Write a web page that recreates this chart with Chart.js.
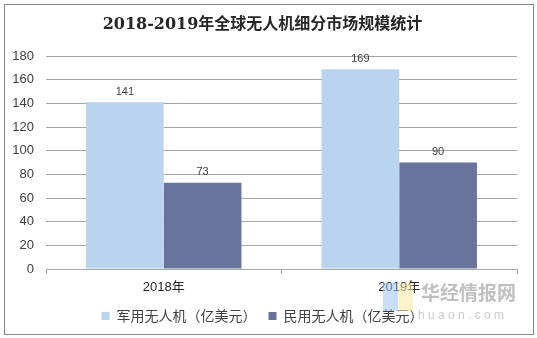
<!DOCTYPE html>
<html>
<head>
<meta charset="utf-8">
<script src="https://cdn.jsdelivr.net/npm/chart.js@4"></script>
<style>
  html, body { margin: 0; padding: 0; background: #fff; }
  #wrap { width: 537px; height: 338px; }
</style>
</head>
<body>
<div id="wrap"><canvas id="droneChart" width="537" height="338"></canvas></div>
<script>
const years = ['2018年', '2019年'];
const militaryValues = [141, 169];
const civilValues = [73, 90];
const seriesNames = ['军用无人机（亿美元）', '民用无人机（亿美元）'];
const titleText = '2018-2019年全球无人机细分市场规模统计';

// outer frame + watermark
const framePlugin = {
  id: 'frame',
  beforeDraw(chart) {
    const ctx = chart.ctx;
    ctx.save();
    ctx.fillStyle = '#fff';
    ctx.fillRect(0, 0, chart.width, chart.height);
    ctx.strokeStyle = '#868686';
    ctx.lineWidth = 1;
    ctx.strokeRect(4.5, 4.5, 529, 330);
    ctx.restore();
  },
  afterDraw(chart) {
    const ctx = chart.ctx;
    ctx.save();
    ctx.globalAlpha = 0.55;
    ctx.fillStyle = '#9fc3f5';
    ctx.fillRect(383, 283, 15, 28);
    ctx.fillStyle = '#fbe9a0';
    ctx.fillRect(398, 283, 15, 28);
    ctx.globalAlpha = 1;
    ctx.fillStyle = 'rgba(170,170,170,0.75)';
    ctx.font = 'bold 19px "Noto Sans CJK SC"';
    ctx.textBaseline = 'middle';
    ctx.fillText('华经情报网', 421, 293);
    ctx.font = '12px "Liberation Sans"';
    ctx.fillStyle = 'rgba(190,190,190,0.8)';
    ctx.fillText('h u a o n . c o m', 418, 316);
    ctx.restore();
  }
};

// value labels above bars
const valueLabels = {
  id: 'valueLabels',
  afterDatasetsDraw(chart) {
    const ctx = chart.ctx;
    ctx.save();
    ctx.fillStyle = '#404040';
    ctx.font = '11px "Liberation Sans"';
    ctx.textAlign = 'center';
    ctx.textBaseline = 'bottom';
    chart.data.datasets.forEach((ds, i) => {
      chart.getDatasetMeta(i).data.forEach((bar, j) => {
        ctx.fillText(ds.data[j], bar.x, bar.y - 5);
      });
    });
    ctx.restore();
  }
};

new Chart(document.getElementById('droneChart'), {
  type: 'bar',
  data: {
    labels: years,
    datasets: [
      { label: seriesNames[0], data: militaryValues, backgroundColor: '#bad4f0' },
      { label: seriesNames[1], data: civilValues, backgroundColor: '#68749c' }
    ]
  },
  options: {
    responsive: false,
    animation: false,
    devicePixelRatio: 1,
    categoryPercentage: 0.66,
    barPercentage: 1,
    layout: { padding: { left: 8, right: 20, top: 2, bottom: 5 } },
    plugins: {
      title: {
        display: true,
        text: titleText,
        color: '#262626',
        font: { family: '"DejaVu Serif", "Noto Sans CJK SC"', size: 16, weight: 'bold' },
        padding: { top: 13, bottom: 22 }
      },
      legend: {
        position: 'bottom',
        labels: {
          boxWidth: 8,
          boxHeight: 8,
          color: '#404040',
          font: { family: '"Noto Sans CJK SC"', size: 14 },
          padding: 12
        }
      },
      tooltip: { enabled: false }
    },
    scales: {
      x: {
        afterFit(scale) { scale.height = 28; },
        grid: { display: true, drawOnChartArea: false, drawTicks: true, tickLength: 5, color: '#a6a6a6' },
        border: { color: '#a6a6a6' },
        ticks: { color: '#262626', font: { family: '"Liberation Sans", "Noto Sans CJK SC"', size: 13 }, padding: 6 }
      },
      y: {
        min: 0,
        max: 180,
        afterFit(scale) { scale.width = 38; },
        grid: { color: '#a6a6a6', drawTicks: false },
        border: { display: false },
        ticks: { stepSize: 20, color: '#404040', font: { family: '"Liberation Sans"', size: 13 }, padding: 12 }
      }
    }
  },
  plugins: [framePlugin, valueLabels]
});
</script>
</body>
</html>
